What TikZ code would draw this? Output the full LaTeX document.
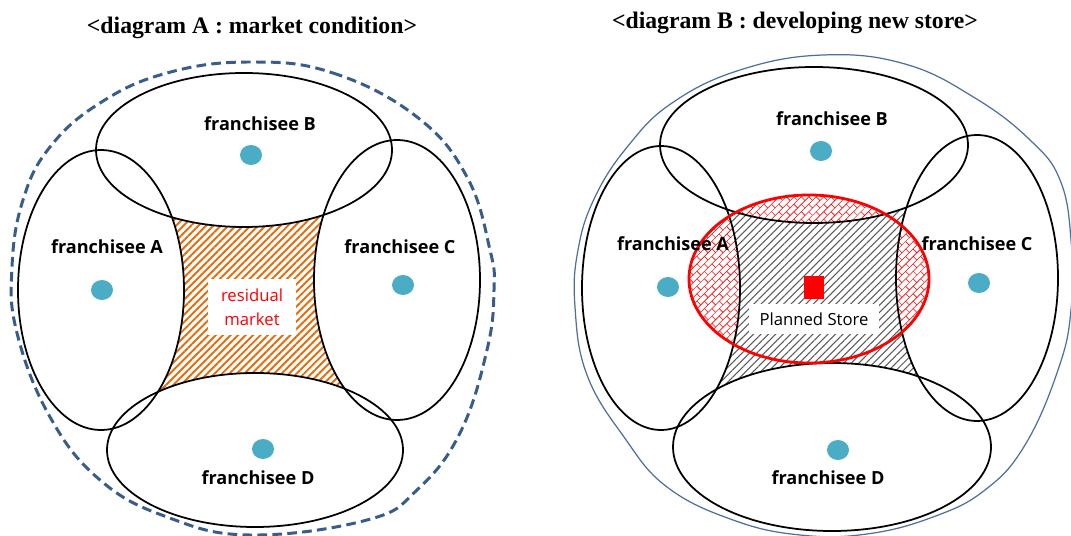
\documentclass[tikz,border=0pt]{standalone}
\usepackage{fontspec}
\setmainfont{Liberation Serif}
\newfontfamily\labelfont{Open Sans}
\usetikzlibrary{patterns.meta,shapes.geometric,positioning}

\definecolor{dotblue}{RGB}{75,172,198}
\definecolor{rimblue}{RGB}{56,93,138}
\definecolor{thinblue}{RGB}{79,110,158}
\definecolor{hatchorange}{RGB}{228,108,10}
\definecolor{hatchgray}{RGB}{90,90,90}

% red bricks laid on the diagonal
\tikzdeclarepattern{
  name=diagbricks, type=uncolored,
  bottom left={(-.1pt,-.1pt)}, top right={(6.1pt,6.1pt)},
  tile size={(6pt,6pt)}, tile transformation={rotate=45},
  code={
    \draw[line width=.35pt] (0,0) -- (6pt,0) (0,3pt) -- (6pt,3pt)
      (0,0) -- (0,3pt) (3pt,3pt) -- (3pt,6pt);
  }
}

\tikzset{
  heading/.style={font=\bfseries\fontsize{13.5}{16}\selectfont},
  zone/.style={draw=black, line width=1pt},
  rim/.style={draw=rimblue, line width=1.7pt, dash pattern=on 5.5pt off 3pt},
  thinrim/.style={draw=thinblue, line width=.7pt},
  outlet/.style={ellipse, fill=dotblue, inner sep=0pt, minimum width=.44cm, minimum height=.4cm},
  franchise/.style={font=\labelfont\bfseries\fontsize{10.3}{12}\selectfont},
  tag/.style={fill=white, inner sep=0pt, font=\labelfont\fontsize{9.5}{13.5}\selectfont, align=center}
}

\begin{document}
\begin{tikzpicture}[x=0.02cm, y=-0.02cm]
  \useasboundingbox (0,0) rectangle (1071,536);
  \clip (0,0) rectangle (1071,536);

  \node[heading] (titleA) at (252,28) {<diagram A : market condition>};
  \node[heading] (titleB) at (795,23) {<diagram B : developing new store>};

  %% ---- market condition ----
  % the gap left between the four trade areas
  \begin{scope}[even odd rule]
    \clip (135,182) -- (358,180) -- (380,415) -- (130,415) -- cycle;
    \clip (0,0) rectangle (540,536) (101,290) ellipse [x radius=83, y radius=140];
    \clip (0,0) rectangle (540,536) (244,150) ellipse [x radius=148, y radius=77];
    \clip (0,0) rectangle (540,536) (397,280) ellipse [x radius=83, y radius=140];
    \clip (0,0) rectangle (540,536) (255,450) ellipse [x radius=148, y radius=77];
    \fill[pattern={Lines[angle=45,distance=3pt,line width=1.1pt]}, pattern color=hatchorange]
      (0,0) rectangle (540,536);
  \end{scope}

  \foreach \cx/\cy/\rx/\ry in {101/290/83/140, 244/150/148/77, 397/280/83/140, 255/450/148/77}
    \draw[zone] (\cx,\cy) ellipse [x radius=\rx, y radius=\ry];

  \draw[rim] plot[smooth cycle, tension=.7] coordinates {
    (250,62) (333,73) (417,117) (467,177) (490,250) (494,290) (487,350)
    (460,433) (417,490) (367,520) (250,535) (167,517) (100,480) (50,417)
    (17,333) (12,267) (23,200) (50,147) (100,103) (167,73)};

  \node[outlet] (dotA) at (102,290) {};
  \node[outlet] (dotB) at (251,155) {};
  \node[outlet] (dotC) at (403,285) {};
  \node[outlet] (dotD) at (263,449) {};
  \node[franchise] (nameA) at (107,247) {franchisee A};
  \node[franchise] (nameB) at (260,124) {franchisee B};
  \node[franchise] (nameC) at (400,247) {franchisee C};
  \node[franchise] (nameD) at (258,478) {franchisee D};
  \node[tag, text=red, minimum width=1.78cm, minimum height=1.14cm] (residual) at (252,307) {residual\\market};

  %% ---- developing new store ----
  \draw[thinrim] plot[smooth cycle, tension=.7] coordinates {
    (823,55) (905,64) (975,98) (1030,140) (1060,180) (1071,240) (1071,310)
    (1058,370) (1025,445) (985,490) (933,517) (867,534) (800,535) (733,520)
    (667,487) (624,437) (587,375) (575,307) (578,250) (595,197) (628,146)
    (672,103) (740,70)};

  % area the planned store would take
  \fill[pattern=diagbricks, pattern color=red] (809,279) ellipse [x radius=120, y radius=84];

  \begin{scope}[even odd rule]
    \clip (700,180) -- (930,175) -- (945,400) -- (696,406) -- cycle;
    \clip (540,0) rectangle (1071,536) (661,288) ellipse [x radius=79, y radius=142];
    \clip (540,0) rectangle (1071,536) (814,145) ellipse [x radius=154, y radius=78];
    \clip (540,0) rectangle (1071,536) (977,278) ellipse [x radius=81, y radius=143];
    \clip (540,0) rectangle (1071,536) (832,447) ellipse [x radius=159, y radius=84];
    \fill[white] (540,0) rectangle (1071,536);
    \fill[pattern={Lines[angle=45,distance=3pt,line width=.6pt]}, pattern color=hatchgray]
      (540,0) rectangle (1071,536);
  \end{scope}

  \foreach \cx/\cy/\rx/\ry in {661/288/79/142, 814/145/154/78, 977/278/81/143, 832/447/159/84}
    \draw[zone] (\cx,\cy) ellipse [x radius=\rx, y radius=\ry];

  \draw[red, line width=1.6pt] (809,279) ellipse [x radius=120, y radius=84];

  \node[outlet] (dotA2) at (668,287) {};
  \node[outlet] (dotB2) at (821,151) {};
  \node[outlet] (dotC2) at (979,283) {};
  \node[outlet] (dotD2) at (838,450) {};
  \node[franchise] (nameA2) at (673,244) {franchisee A};
  \node[franchise] (nameB2) at (832,119) {franchisee B};
  \node[franchise] (nameC2) at (977,244) {franchisee C};
  \node[franchise] (nameD2) at (828,478) {franchisee D};
  \node[fill=red, minimum width=.4cm, minimum height=.46cm, inner sep=0pt] (store) at (814,288) {};
  \node[tag, minimum width=2.6cm, minimum height=.6cm, below=.08cm of store] (planned) {Planned Store};
\end{tikzpicture}
\end{document}
